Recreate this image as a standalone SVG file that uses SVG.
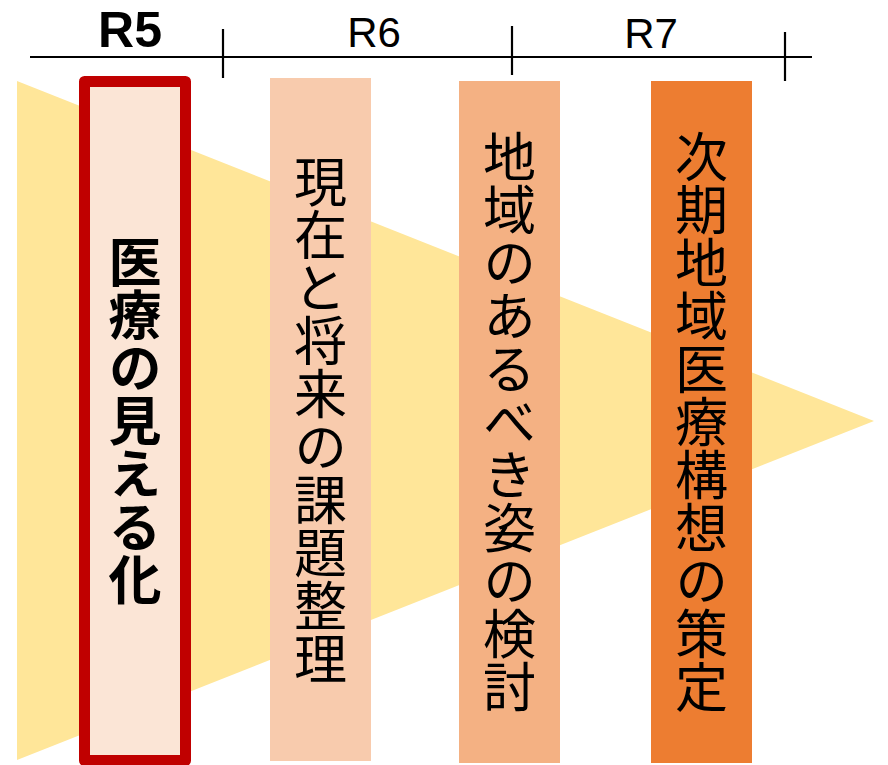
<svg xmlns="http://www.w3.org/2000/svg" width="888" height="765" viewBox="0 0 888 765">
<style>
.axis{stroke:#000;stroke-width:2.2;fill:none}
.yr{font-family:"Liberation Sans","Noto Sans",sans-serif;fill:#000;text-anchor:middle}
.vt{font-family:"Noto Sans CJK JP","Noto Sans",sans-serif;font-size:53px;fill:#000;writing-mode:vertical-rl;text-anchor:middle}
</style>
<rect width="888" height="765" fill="#fff"/>
<g id="arrow">
<polygon points="17,81 874,421 17,760" fill="#FFE699"/>
</g>
<g id="connectors">
<line class="axis" x1="30" y1="57" x2="812" y2="57"/>
<line class="axis" x1="223" y1="29" x2="223" y2="78"/>
<line class="axis" x1="512" y1="26" x2="512" y2="75"/>
<line class="axis" x1="785" y1="32" x2="785" y2="81"/>
</g>
<g id="labels">
<text class="yr" x="130" y="47" font-size="50" font-weight="bold">R5</text>
<text class="yr" x="374" y="47" font-size="42">R6</text>
<text class="yr" x="651" y="48" font-size="42">R7</text>
</g>
<g id="node1">
<rect x="84.5" y="81.5" width="101" height="679" fill="#FBE5D6" stroke="#C00000" stroke-width="11" stroke-linejoin="round"/>
<text class="vt" x="135" y="421" font-weight="bold">医療の見える化</text>
</g>
<g id="node2">
<rect x="270" y="78" width="101" height="683" fill="#F8CBAD"/>
<text class="vt" x="320.5" y="420">現在と将来の課題整理</text>
</g>
<g id="node3">
<rect x="459" y="81" width="101" height="682" fill="#F4B183"/>
<text class="vt" x="509.5" y="422">地域のあるべき姿の検討</text>
</g>
<g id="node4">
<rect x="651" y="81" width="101" height="682" fill="#ED7D31"/>
<text class="vt" x="701.5" y="422">次期地域医療構想の策定</text>
</g>
</svg>
